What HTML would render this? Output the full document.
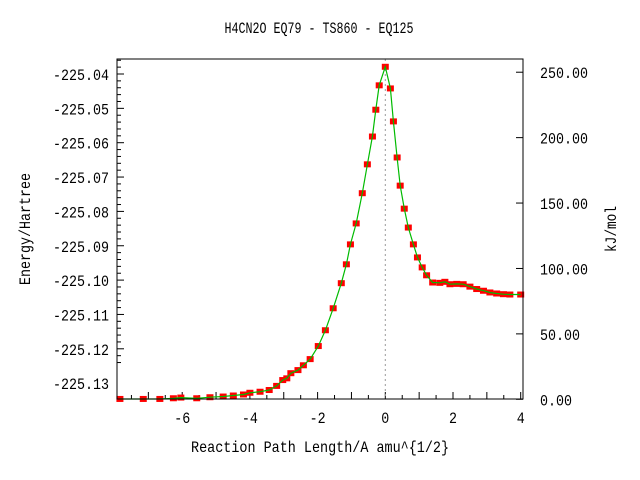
<!DOCTYPE html>
<html><head><meta charset="utf-8"><style>
body{margin:0;background:#fff}
svg{display:block;font-family:"Liberation Mono",monospace}
</style></head><body>
<svg id="chart" width="640" height="480" viewBox="0 0 640 480">
<text x="319" y="33" text-anchor="middle" font-size="16" textLength="189" lengthAdjust="spacingAndGlyphs">H4CN2O   EQ79 - TS860 - EQ125</text>
<text transform="translate(30,229) rotate(-90)" text-anchor="middle" font-size="16" textLength="112" lengthAdjust="spacingAndGlyphs">Energy/Hartree</text>
<text transform="translate(616,229) rotate(-90)" text-anchor="middle" font-size="16" textLength="46" lengthAdjust="spacingAndGlyphs">kJ/mol</text>
<text x="320" y="452" text-anchor="middle" font-size="16" textLength="258" lengthAdjust="spacingAndGlyphs">Reaction Path Length/A amu^{1/2}</text>
<g id="axes"></g>
<g id="marks"></g>
<rect x="117" y="59" width="406" height="340" fill="none" stroke="#000" stroke-width="1"/>
</svg>
<script>
const xTicks = [-6, -4, -2, 0, 2, 4];
const yTicks = [-225.04, -225.05, -225.06, -225.07, -225.08, -225.09, -225.10, -225.11, -225.12, -225.13];
const y2Ticks = [0, 50, 100, 150, 200, 250];
const pathS = [-7.84,-7.15,-6.66,-6.26,-6.04,-5.57,-5.18,-4.79,-4.49,-4.19,-4.00,-3.70,-3.43,-3.21,-3.03,-2.91,-2.79,-2.58,-2.42,-2.22,-1.98,-1.77,-1.54,-1.30,-1.15,-1.03,-0.86,-0.68,-0.53,-0.38,-0.28,-0.18,0,
0.15,0.24,0.35,0.44,0.56,0.68,0.83,0.95,1.09,1.22,1.40,1.61,1.76,1.91,2.11,2.30,2.50,2.70,2.90,3.09,3.29,3.49,3.68,4.0];
const energy = [-225.1346,-225.1346,-225.1346,-225.1344,-225.1342,-225.1344,-225.1341,-225.1339,-225.1336,-225.1333,-225.1328,-225.1325,-225.1320,-225.1308,-225.1291,-225.1286,-225.1271,-225.1262,-225.1248,-225.1230,-225.1192,-225.1146,-225.1082,-225.1009,-225.0954,-225.0896,-225.0835,-225.0747,-225.0663,-225.0582,-225.0504,-225.0433,-225.0379,
-225.0442,-225.0538,-225.0643,-225.0725,-225.0792,-225.0847,-225.0896,-225.0934,-225.0963,-225.0986,-225.1007,-225.1008,-225.1005,-225.1012,-225.1011,-225.1012,-225.1019,-225.1026,-225.1031,-225.1036,-225.1039,-225.1041,-225.1042,-225.1042];
const E0 = -225.1347, HA2KJ = 2625.5;
const NS='http://www.w3.org/2000/svg';
const X = s => 385.3 + s*33.85;
const Y = e => 74 + (-225.04 - e)*3435;
const Y2 = v => Y(E0 + v/HA2KJ);
const ax = document.getElementById('axes'), mk = document.getElementById('marks');
function mkEl(tag, attrs, parent){const el=document.createElementNS(NS,tag);for(const k in attrs)el.setAttribute(k,attrs[k]);parent.appendChild(el);return el;}
for(let s=-7.5;s<=4.01;s+=0.5){const l=mkEl('line',{x1:X(s),x2:X(s),y1:399,y2:Number.isInteger(s)?392:395,stroke:'#000'},ax);

}
for(let i=0;i<=47;i++){const e=-225.04+0.01-i*0.002;const y=Y(e);if(y<59||y>399)continue;const major=i%5==0;
const l=mkEl('line',{x1:117,x2:major?124:121,y1:y,y2:y,stroke:'#000'},ax);

}
xTicks.forEach(t=>{const lab=String(t);const tx=mkEl('text',{x:X(t),y:423,'text-anchor':'middle','font-size':16,textLength:lab.length*8,lengthAdjust:'spacingAndGlyphs'},ax);tx.textContent=lab;

});
yTicks.forEach(t=>{const tx=mkEl('text',{x:109,y:Y(t)+6,'text-anchor':'end','font-size':16,textLength:56,lengthAdjust:'spacingAndGlyphs'},ax);tx.textContent=t.toFixed(2);

});
y2Ticks.forEach(t=>{const y=Y2(t);const l=mkEl('line',{x1:516,x2:523,y1:y,y2:y,stroke:'#000'},ax);


const lab=t.toFixed(2);
const tx=mkEl('text',{x:540,y:y+6,'font-size':16,textLength:lab.length*8,lengthAdjust:'spacingAndGlyphs'},ax);tx.textContent=lab;

});
const ts=mkEl('line',{x1:X(0),x2:X(0),y1:59,y2:399,stroke:'#999','stroke-dasharray':'2,3'},mk);


pathS.forEach((s,i)=>{const r=mkEl('rect',{x:X(s)-3.5,y:Y(energy[i])-3,width:7,height:6,fill:'#ff0000'},mk);

});
const pts=pathS.map((s,i)=>X(s).toFixed(1)+','+Y(energy[i]).toFixed(1)).join(' ');
const pl=mkEl('polyline',{points:pts,fill:'none',stroke:'#00bb00','stroke-width':1.2},mk);


</script>
</body></html>
